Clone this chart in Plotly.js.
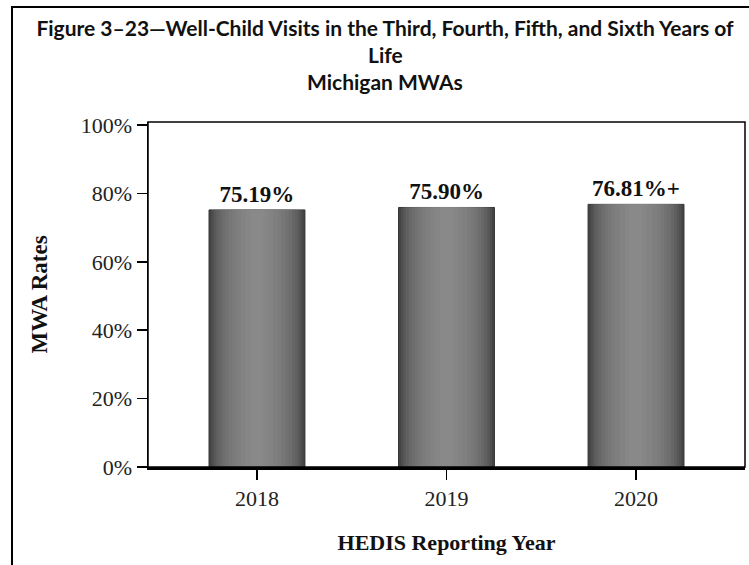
<!DOCTYPE html>
<html>
<head>
<meta charset="utf-8">
<script src="https://cdn.plot.ly/plotly-3.0.1.min.js"></script>
<style>html,body{margin:0;padding:0;background:#fff;}#chart{width:749px;height:565px;}</style>
</head>
<body>
<div id="chart"></div>
<script>
const years = ['2018', '2019', '2020'];
const rates = [0.7519, 0.7590, 0.7681];
const rateLabels = ['75.19%', '75.90%', '76.81%+'];
const titleLines = ['Figure 3\u201323\u2014Well-Child Visits in the Third, Fourth, Fifth, and Sixth Years of', 'Life', 'Michigan MWAs'];
const yTickVals = [0, 0.2, 0.4, 0.6, 0.8, 1.0];
const yTickText = ['0%', '20%', '40%', '60%', '80%', '100%'];

// gradient simulation: layered bars, outer dark to inner light
const layerWidths = [0.506, 0.48, 0.455, 0.43, 0.40, 0.37, 0.335, 0.30, 0.26, 0.22, 0.17, 0.12, 0.07];
const layerColors = ['#444444', '#4f4f4f', '#585858', '#606060', '#676767', '#6d6d6d', '#727272', '#777777', '#7b7b7b', '#7f7f7f', '#838383', '#868686', '#898989'];

const serif = 'Liberation Serif, Times New Roman, serif';
const traces = layerWidths.map((w, i) => ({
  type: 'bar',
  x: years,
  y: rates,
  width: w,
  marker: {color: layerColors[i], line: {width: i === 0 ? 1 : 0, color: '#333333'}},
  text: i === 0 ? rateLabels : undefined,
  textposition: i === 0 ? 'outside' : 'none',
  textfont: {family: serif, size: 23, color: '#111', weight: 'bold'},
  cliponaxis: false,
  hoverinfo: 'skip',
  showlegend: false
}));

const titleFont = {family: 'Lato, Calibri, sans-serif', size: 21, color: '#111'};
const layout = {
  width: 749, height: 565,
  margin: {l: 148, r: 4, t: 122, b: 98},
  paper_bgcolor: '#fff', plot_bgcolor: '#fff',
  barmode: 'overlay',
  title: {
    text: '<b>' + titleLines[0] + '</b>',
    font: titleFont,
    x: 385 / 749, xanchor: 'center', xref: 'container',
    y: 1 - 29 / 565, yanchor: 'middle', yref: 'container'
  },
  annotations: [
    {text: '<b>' + titleLines[1] + '</b>', xref: 'paper', yref: 'paper', x: (385 - 148) / 597, y: (467 - 55) / 345, xanchor: 'center', yanchor: 'middle', showarrow: false, font: titleFont},
    {text: '<b>' + titleLines[2] + '</b>', xref: 'paper', yref: 'paper', x: (385 - 148) / 597, y: (467 - 82) / 345, xanchor: 'center', yanchor: 'middle', showarrow: false, font: titleFont}
  ],
  xaxis: {
    type: 'category',
    range: [-0.575, 2.575],
    showline: true, linecolor: '#000', linewidth: 3,
    ticks: 'outside', ticklen: 10, tickwidth: 1.5, tickcolor: '#000',
    tickfont: {family: serif, size: 22, color: '#222'},
    showgrid: false, zeroline: false,
    title: {text: '<b>HEDIS Reporting Year</b>', font: {family: serif, size: 22, color: '#111'}, standoff: 25}
  },
  yaxis: {
    range: [0, 1.009],
    tickvals: yTickVals, ticktext: yTickText,
    showline: true, linecolor: '#000', linewidth: 1.5,
    ticks: 'outside', ticklen: 10, tickwidth: 1.5, tickcolor: '#000',
    tickfont: {family: serif, size: 22, color: '#222'},
    showgrid: false, zeroline: false,
    title: {text: '<b>MWA Rates</b>', font: {family: serif, size: 23, color: '#111'}, standoff: 26}
  },
  shapes: [
    {type: 'rect', xref: 'paper', yref: 'paper', x0: 0, x1: 1, y0: 0, y1: 1, line: {color: '#000', width: 1.5}},
    {type: 'rect', xref: 'paper', yref: 'paper', x0: (12 - 148) / 597, x1: 1.2, y0: -0.5, y1: (467 - 7) / 345, line: {color: '#000', width: 2}}
  ],
  font: {family: serif}
};

Plotly.newPlot('chart', traces, layout, {displayModeBar: false, staticPlot: true});
</script>
</body>
</html>
